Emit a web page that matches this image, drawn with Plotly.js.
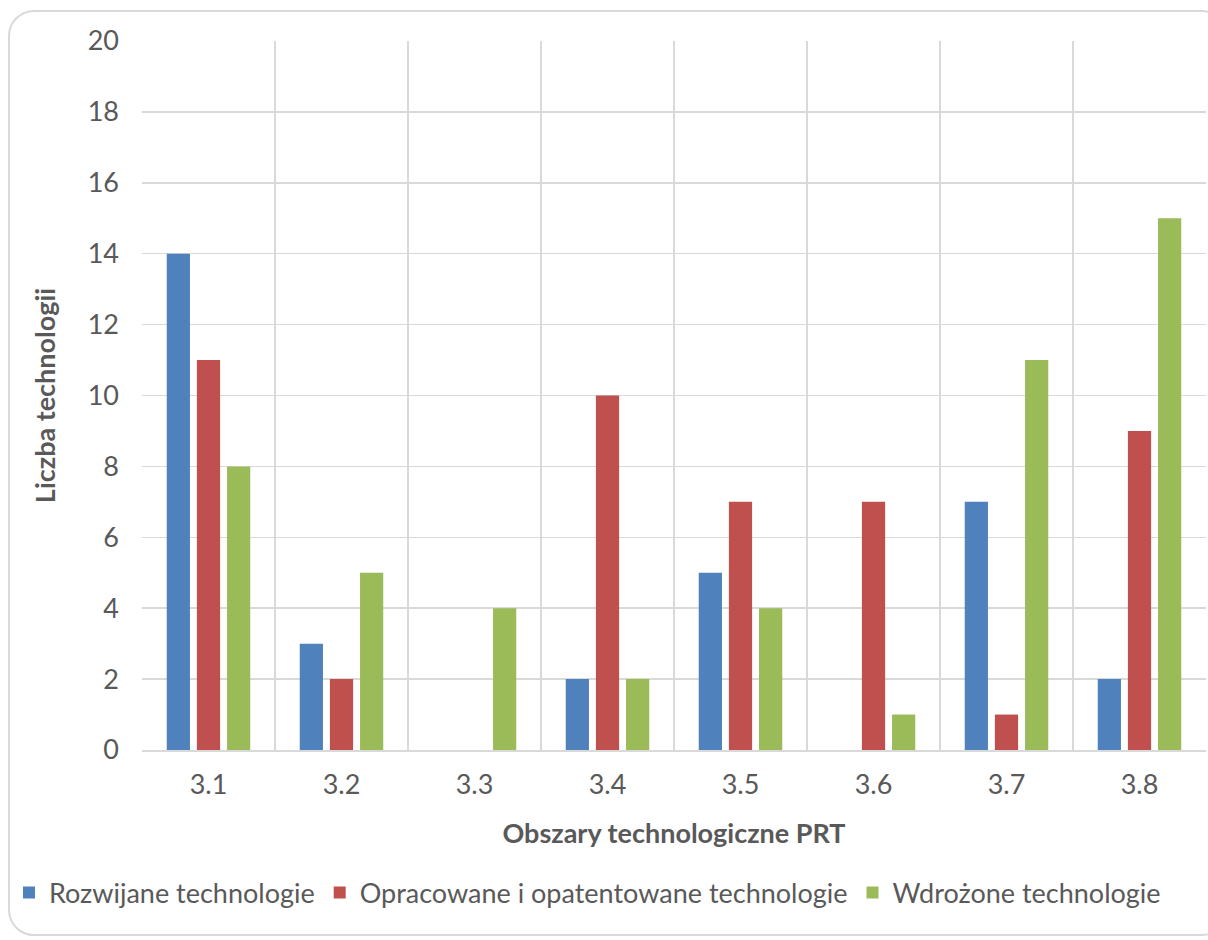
<!DOCTYPE html>
<html>
<head>
<meta charset="utf-8">
<script src="https://cdn.plot.ly/plotly-3.0.1.min.js"></script>
<style>
  html, body { margin: 0; padding: 0; background: #fff; }
  #wrap { position: relative; width: 1208px; height: 940px; overflow: hidden; }
  #frame { position: absolute; left: 8px; top: 10px; width: 1220px; height: 926px;
           border: 2px solid #d9d9d9; border-radius: 26px; pointer-events: none; box-sizing: border-box; }
  #chart { position: absolute; left: 0; top: 0; width: 1208px; height: 940px; }
</style>
</head>
<body>
<div id="wrap">
  <div id="chart"></div>
  <div id="frame"></div>
</div>
<script>
const categories = ["3.1", "3.2", "3.3", "3.4", "3.5", "3.6", "3.7", "3.8"];
const seriesNames = ["Rozwijane technologie", "Opracowane i opatentowane technologie", "Wdrożone technologie"];
const rozwijane = [14, 3, 0, 2, 5, 0, 7, 2];
const opracowane = [11, 2, 0, 10, 7, 7, 1, 9];
const wdrozone = [8, 5, 4, 2, 4, 1, 11, 15];
const yTicks = [0, 2, 4, 6, 8, 10, 12, 14, 16, 18, 20];
const xTitle = "Obszary technologiczne PRT";
const yTitle = "Liczba technologii";

const colors = ["#4F81BD", "#C0504D", "#9BBB59"];
const values = [rozwijane, opracowane, wdrozone];

const traces = values.map((v, i) => ({
  type: "bar",
  name: seriesNames[i],
  x: categories,
  y: v,
  marker: { color: colors[i], line: { width: 0 } },
  hoverinfo: "x+y+name"
}));

const font = "Lato, 'Open Sans', 'DejaVu Sans', sans-serif";
const fs = 27;

const layout = {
  width: 1208,
  height: 940,
  margin: { l: 142, r: 2, t: 41, b: 190 },
  paper_bgcolor: "rgba(0,0,0,0)",
  plot_bgcolor: "#ffffff",
  barmode: "group",
  bargap: 0.32,
  bargroupgap: 0.23,
  font: { family: font, color: "#595959", size: fs },
  xaxis: {
    type: "category",
    tickson: "boundaries",
    showgrid: true,
    gridcolor: "#d9d9d9",
    gridwidth: 1.5,
    ticks: "",
    showline: true,
    linecolor: "#d9d9d9",
    linewidth: 2,
    tickfont: { family: font, size: fs, color: "#595959" },
    ticklabelstandoff: 10,
    automargin: true,
    title: { text: xTitle, font: { family: font, size: fs, color: "#595959", weight: "bold" }, standoff: 25 },
    fixedrange: true
  },
  yaxis: {
    range: [0, 20],
    tickvals: yTicks,
    showgrid: true,
    gridcolor: "#d9d9d9",
    gridwidth: 1.5,
    zeroline: false,
    showline: false,
    ticks: "",
    tickfont: { family: font, size: fs, color: "#595959" },
    ticklabelstandoff: 22,
    automargin: true,
    title: { text: yTitle, font: { family: font, size: fs, color: "#595959", weight: "bold" }, standoff: 24 },
    fixedrange: true
  },
  legend: {
    orientation: "h",
    x: -0.125,
    xanchor: "left",
    y: -0.2017,
    yanchor: "middle",
    font: { family: font, size: fs, color: "#595959" },
    itemwidth: 30,
    traceorder: "normal"
  },
  showlegend: true
};

Plotly.newPlot("chart", traces, layout, { displayModeBar: false, staticPlot: true });
</script>
</body>
</html>
